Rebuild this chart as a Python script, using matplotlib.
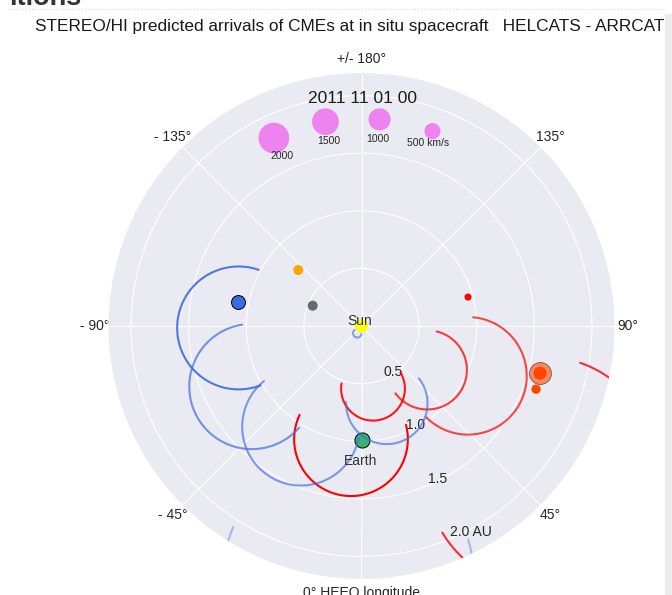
import numpy as np
import matplotlib
matplotlib.use('Agg')
import matplotlib.pyplot as plt
import seaborn as sns
from matplotlib.lines import Line2D
from matplotlib.patches import Rectangle

sns.set_style('darkgrid')
plt.rcParams['font.family'] = ['Liberation Sans', 'DejaVu Sans']

frame_time = '2011 11 01 00'

# planets and spacecraft: HEEQ longitude [deg], distance [AU]
body_names = ['Sun', 'Mercury', 'Venus', 'Earth', 'Mars', 'Mars orbiter', 'STEREO-A', 'STEREO-B']
body_lon = [0.0, -112.6, -131.5, 0.0, 75.2, 70.1, 105.2, -101.1]
body_r = [0.0, 0.459, 0.733, 0.99, 1.603, 1.611, 0.958, 1.095]

# CME fronts (SSEF30): observing spacecraft, apex distance [AU], direction [deg HEEQ], alpha
cme_sc = ['A', 'A', 'A', 'A', 'A', 'B', 'B', 'B', 'B', 'B', 'B']
cme_apex = [1.03, 1.53, 0.83, 1.48, 3.03, 1.60, 1.63, 1.53, 1.06, 0.11, 3.26]
cme_dir = [56.3, 64.9, 10.4, -5.3, 50.9, -89.1, -61.1, -31.0, 18.1, -30.0, -3.0]
cme_alpha = [0.75, 0.7, 0.9, 1.0, 0.8, 0.9, 0.7, 0.65, 0.65, 0.6, 0.4]

# speed legend
speeds = [2000, 1500, 1000, 500]
speed_labels = ['2000', '1500', '1000', '500 km/s']

# styles
body_color = ['yellow', 'dimgrey', 'orange', 'mediumseagreen', 'orangered', 'orangered', 'red', 'royalblue']
body_size = [90, 52, 52, 118, 88, 45, 26, 100]
body_edge = ['none', 'none', 'none', 'k', 'none', 'none', 'none', 'k']
sc_color = {'A': 'red', 'B': 'royalblue'}
lam = np.radians(30.0)

fig = plt.figure(figsize=(6.72, 5.95), dpi=100)
ax = fig.add_axes([108 / 672, 15.5 / 595, 507 / 672, 507 / 595], projection='polar')
ax.set_theta_zero_location('S')

for lon, r, c, s, e in zip(body_lon, body_r, body_color, body_size, body_edge):
    ax.scatter(np.radians(lon), r, s=s, c=c, edgecolors=e, linewidths=0.7, zorder=1)
# arrival marker round Mars
ax.scatter(np.radians(body_lon[4]), body_r[4], s=250, c='orangered', alpha=0.6,
           edgecolors='k', linewidths=0.5, zorder=1)

ax.annotate('Sun', (0, 0), xytext=(-1.5, 3.5), textcoords='offset points',
            ha='center', va='center', fontsize=10, color='.2')
ax.annotate('Earth', (np.radians(body_lon[3]), body_r[3]), xytext=(-1, -15),
            textcoords='offset points', ha='center', va='center', fontsize=10, color='.2')

# CME circles
ang = np.radians(np.linspace(-110, 110, 111))
for sc, apex, d_lon, a in zip(cme_sc, cme_apex, cme_dir, cme_alpha):
    d = apex / (1 + np.sin(lam))
    b = d * np.sin(lam)
    phi = np.radians(d_lon)
    x = d * np.cos(phi) + b * np.cos(phi + ang)
    y = d * np.sin(phi) + b * np.sin(phi + ang)
    ax.plot(np.unwrap(np.arctan2(y, x)), np.hypot(x, y), color=sc_color[sc], alpha=a, lw=1.5)

# speed legend
leg_theta = np.radians([205, 190, 175, 160])
ax.scatter(leg_theta, [1.8] * 4, s=np.array(speeds) / 4.5, c='violet', zorder=1)
for t, lab, rr in zip(leg_theta, speed_labels, [1.63, 1.63, 1.63, 1.69]):
    ax.text(t, rr, lab, ha='center', va='center', fontsize=7.5, color='.15')

ax.set_thetagrids(range(0, 360, 45), ['0° HEEQ longitude', '45°', '90°', '135°',
                                      '+/- 180°', '- 135°', '- 90°', '- 45°'], fontsize=10)
ax.set_rgrids([0.5, 1.0, 1.5, 2.0], ['0.5', '1.0', '1.5', '2.0 AU'], fontsize=10)
ax.tick_params(axis='x', pad=2.5, size=0)
ax.set_ylim(0, 2.2)

fig.text(349.5 / 672, 1 - 27 / 595, 'STEREO/HI predicted arrivals of CMEs at in situ spacecraft   HELCATS - ARRCAT',
         ha='center', va='center', fontsize=12.4, color='.1')
fig.text(362.5 / 672, 1 - 98.3 / 595, frame_time, ha='center', va='center', fontsize=12.5, color='.1')

# bits of the surrounding page
fig.text(9 / 672, 1 - 5 / 595, 'itions', ha='left', va='baseline', fontsize=19.5,
         fontweight='bold', color='.2')
fig.add_artist(Line2D([0.012, 0.99], [1 - 9 / 595] * 2, ls=':', color='.85', lw=0.8))
fig.add_artist(Rectangle((665 / 672, 0), 7 / 672, 1 - 14 / 595, transform=fig.transFigure,
                         facecolor='.93', edgecolor='none'))

fig.savefig('out.png', dpi=100)
